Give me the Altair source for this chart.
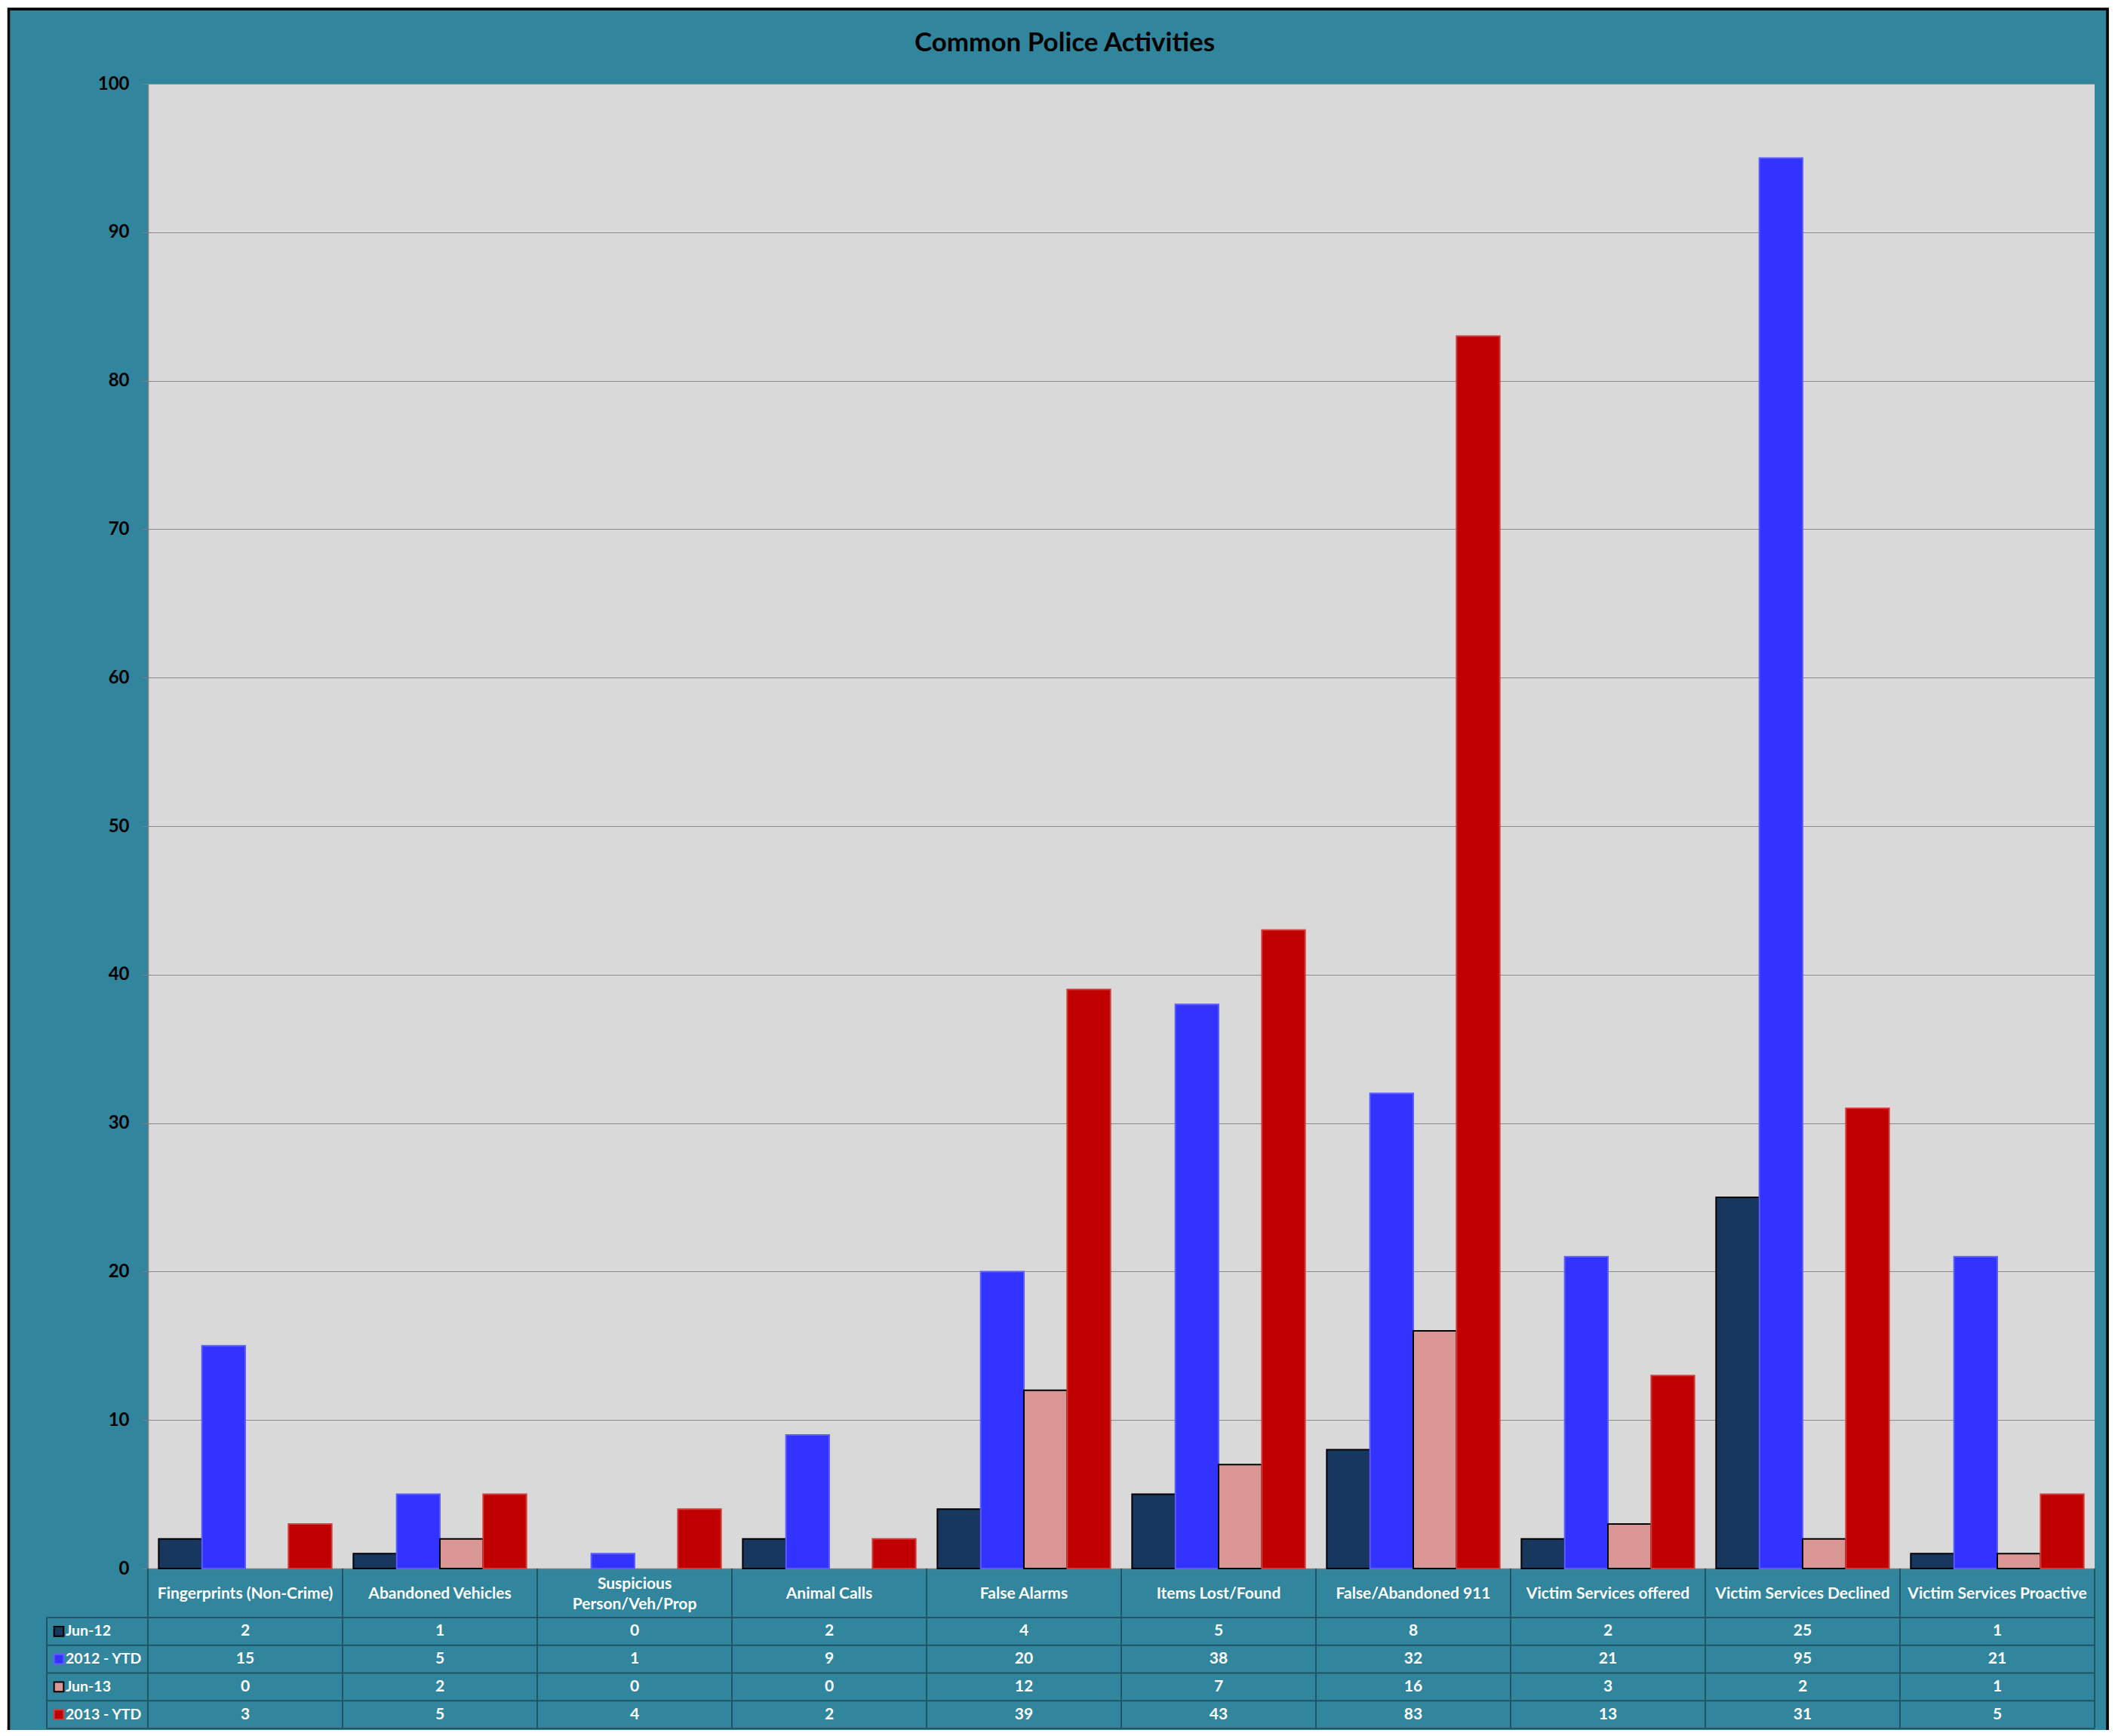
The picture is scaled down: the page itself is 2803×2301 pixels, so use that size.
import altair as alt
import pandas as pd

# ---------------- data ----------------
categories = [
    "Fingerprints (Non-Crime)",
    "Abandoned Vehicles",
    "Suspicious Person/Veh/Prop",
    "Animal Calls",
    "False Alarms",
    "Items Lost/Found",
    "False/Abandoned 911",
    "Victim Services offered",
    "Victim Services Declined",
    "Victim Services Proactive",
]
series = ["Jun-12", "2012 - YTD", "Jun-13", "2013 - YTD"]
jun12 = [2, 1, 0, 2, 4, 5, 8, 2, 25, 1]
ytd12 = [15, 5, 1, 9, 20, 38, 32, 21, 95, 21]
jun13 = [0, 2, 0, 0, 12, 7, 16, 3, 2, 1]
ytd13 = [3, 5, 4, 2, 39, 43, 83, 13, 31, 5]
y_ticks = list(range(0, 101, 10))
title_text = "Common Police Activities"
wrapped_category = "Suspicious Person/Veh/Prop"

fill_colors = ["#17375E", "#3333FF", "#D99694", "#C00000"]
stroke_colors = ["#000000", "#5C5CFF", "#000000", "#D23C3C"]

rows = []
for s, vals in zip(series, [jun12, ytd12, jun13, ytd13]):
    for c, v in zip(categories, vals):
        rows.append({"category": c, "series": s, "value": v})
df = pd.DataFrame(rows)
cat_df = pd.DataFrame({"category": categories})
ser_df = pd.DataFrame({"series": series})
one_df = pd.DataFrame({"k": [0]})

# ---------------- layout / style ----------------
W, H = 2580, 1968
FONT = "Lato"
TEAL = "#31859C"
LINE = "#1E5666"
GRID = "#8A8A8A"
TABLE_TOP = 2033      # bottom of header row (chart coords)
TABLE_BOTTOM = 2180
TXT = 21

x_axis = alt.Axis(
    title=None, ticks=False, grid=False, labels=False,
    domainColor="#7F7F7F", domainWidth=1.5,
)
x_scale = alt.Scale(domain=categories, paddingInner=0, paddingOuter=0)


def x_enc(**kw):
    return alt.X("category:N", sort=categories, scale=x_scale, axis=x_axis, **kw)


def y_series(**kw):
    return alt.Y(
        "series:N", sort=series,
        scale=alt.Scale(domain=series, range=[TABLE_TOP, TABLE_BOTTOM], paddingInner=0, paddingOuter=0),
        axis=None, **kw,
    )


color_enc = alt.Color("series:N", scale=alt.Scale(domain=series, range=fill_colors), legend=None)
stroke_enc = alt.Stroke("series:N", scale=alt.Scale(domain=series, range=stroke_colors), legend=None)

bars = alt.Chart(df).transform_filter("datum.value > 0").mark_bar(strokeWidth=2).encode(
    x=x_enc(),
    xOffset=alt.XOffset("series:N", sort=series,
                        scale=alt.Scale(domain=series, paddingInner=0, paddingOuter=0.25)),
    y=alt.Y("value:Q", scale=alt.Scale(domain=[0, 100], nice=False),
            axis=alt.Axis(values=y_ticks, title=None, labelFont=FONT, labelFontSize=24,
                          labelFontWeight="bold", labelColor="black", labelPadding=16,
                          tickColor="#7F7F7F", tickSize=9, domainColor="#7F7F7F",
                          domainWidth=1.5, gridColor=GRID, gridWidth=1.2)),
    color=color_enc,
    stroke=stroke_enc,
)

# table: header (category names)
header_style = dict(font=FONT, fontSize=TXT, fontWeight="bold", color="white",
                    baseline="middle", align="center")
header_single = alt.Chart(cat_df).transform_filter(
    alt.datum.category != wrapped_category
).mark_text(**header_style).encode(
    x=x_enc(), y=alt.value(H + 34), text="category:N",
)
header_wrapped = alt.Chart(cat_df).transform_filter(
    alt.datum.category == wrapped_category
).transform_calculate(
    label="replace(datum.category, 'Suspicious ', 'Suspicious|')"
).mark_text(lineBreak="|", lineHeight=27, dy=-13, **header_style).encode(
    x=x_enc(), y=alt.value(H + 34), text="label:N",
)

# table: vertical separators
vlines = alt.Chart(cat_df).mark_rule(color=LINE, strokeWidth=2).encode(
    x=x_enc(bandPosition=0),
    y=alt.value(H), y2=alt.value(TABLE_BOTTOM),
)
right_line = alt.Chart(one_df).mark_rule(color=LINE, strokeWidth=2).encode(
    x=alt.value(W), y=alt.value(H), y2=alt.value(TABLE_BOTTOM),
)
left_line = alt.Chart(one_df).mark_rule(color=LINE, strokeWidth=2).encode(
    x=alt.value(-134), y=alt.value(TABLE_TOP), y2=alt.value(TABLE_BOTTOM),
)
# table: horizontal separators
hlines = alt.Chart(ser_df).mark_rule(color=LINE, strokeWidth=2).encode(
    y=y_series(bandPosition=0),
    x=alt.value(-134), x2=alt.value(W),
)
bottom_line = alt.Chart(one_df).mark_rule(color=LINE, strokeWidth=2).encode(
    y=alt.value(TABLE_BOTTOM), x=alt.value(-134), x2=alt.value(W),
)

# table: values
cells = alt.Chart(df).mark_text(
    font=FONT, fontSize=TXT, fontWeight="bold", color="white", baseline="middle", align="center"
).encode(
    x=x_enc(),
    y=y_series(),
    text=alt.Text("value:Q"),
)

# table: legend keys
legend_text = alt.Chart(ser_df).mark_text(
    font=FONT, fontSize=19.5, fontWeight="bold", color="white", baseline="middle", align="left"
).encode(
    x=alt.value(-109),
    y=y_series(),
    text="series:N",
)
legend_keys = alt.Chart(ser_df).mark_square(size=160, filled=True, strokeWidth=2, opacity=1).encode(
    x=alt.value(-118),
    y=y_series(),
    color=color_enc,
    stroke=stroke_enc,
)

# title
title = alt.Chart(one_df).mark_text(
    font=FONT, fontSize=35, fontWeight="bold", color="black", align="center", baseline="middle"
).encode(
    x=alt.value(1215), y=alt.value(-54), text=alt.value(title_text),
)

# outer frame
white_edge = alt.Chart(one_df).mark_rect(filled=False, stroke="white", strokeWidth=5).encode(
    x=alt.value(-188), x2=alt.value(2620), y=alt.value(-103), y2=alt.value(2400),
)
frame = alt.Chart(one_df).mark_rect(filled=False, stroke="black", strokeWidth=3.5).encode(
    x=alt.value(-184.5), x2=alt.value(2597), y=alt.value(-99), y2=alt.value(2400),
)

chart = alt.layer(
    bars, header_single, header_wrapped, vlines, right_line, left_line, hlines, bottom_line,
    cells, legend_text, legend_keys, title, white_edge, frame,
).resolve_scale(
    y="independent"
).properties(
    width=W, height=H,
    autosize=alt.AutoSizeParams(type="none"),
    padding={"left": 188, "top": 103, "right": 19, "bottom": 214},
    background=TEAL,
).configure_view(
    fill="#D9D9D9", strokeWidth=0
)

chart.save("out.html", embed_options={"renderer": "svg", "actions": False})
